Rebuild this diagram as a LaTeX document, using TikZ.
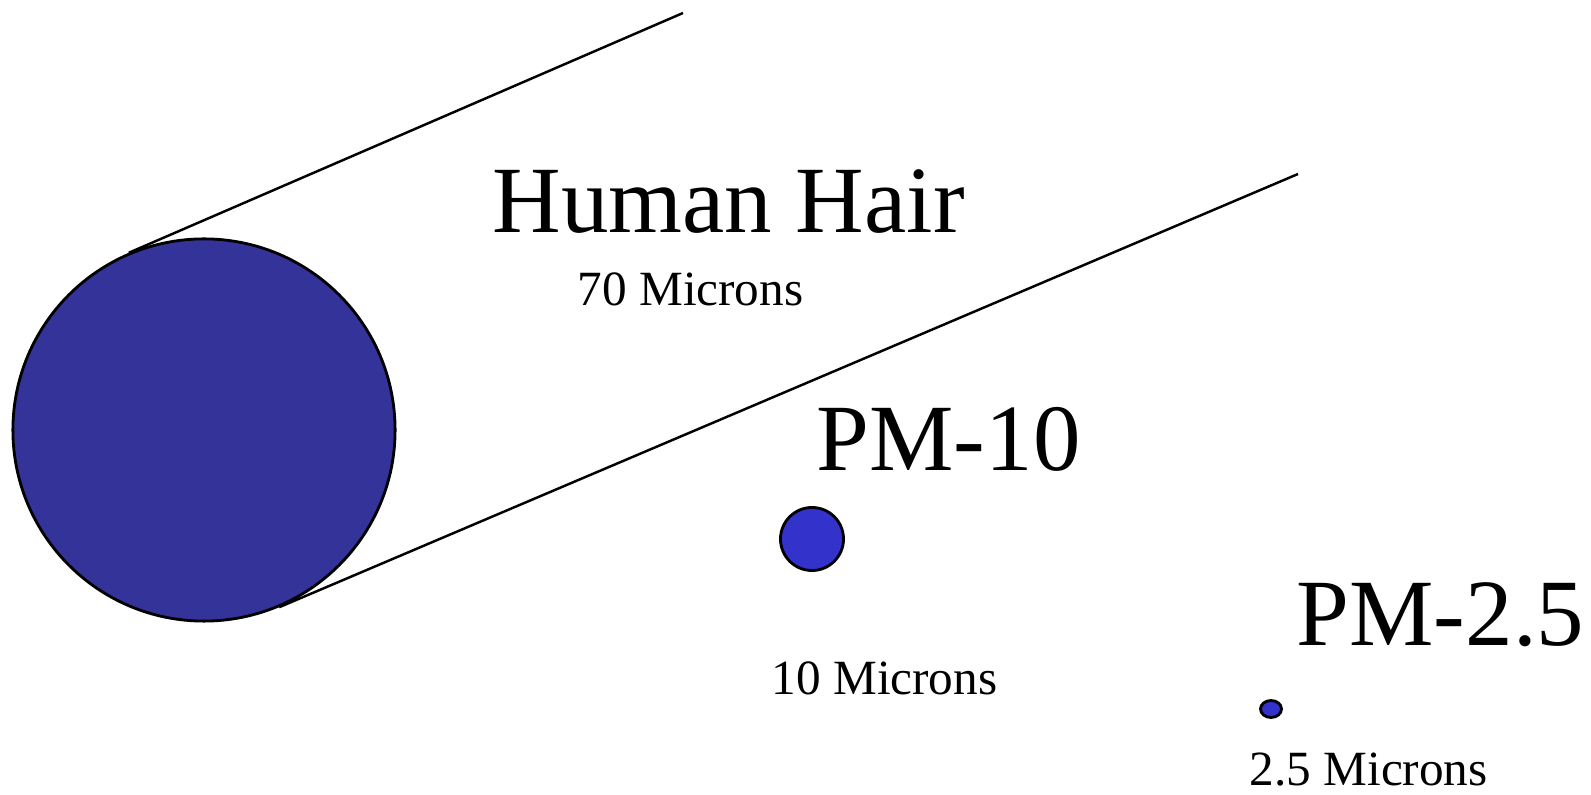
\documentclass[tikz,border=0pt]{standalone}
\usepackage{fontspec}
\setmainfont{Liberation Serif}
\usetikzlibrary{positioning,shapes.geometric}
\definecolor{hairblue}{RGB}{51,51,153}
\definecolor{dustblue}{RGB}{51,51,204}

\begin{document}
\begin{tikzpicture}[
    x=0.01cm, y=-0.01cm,
    particle/.style={draw=black, line width=0.8pt, inner sep=0pt},
    bigtext/.style={font=\fontsize{27}{30}\selectfont, inner sep=0pt, anchor=base west},
    smalltext/.style={font=\fontsize{14}{16}\selectfont, inner sep=0pt, anchor=base west},
    strand/.style={line width=0.7pt}
]
  \useasboundingbox (0,0) rectangle (1591,795);

  \node[particle, circle, fill=hairblue, minimum size=3.82cm] (hair) at (204,430) {};
  \node[particle, circle, fill=dustblue, minimum size=0.63cm] (pmten) at (812,539) {};
  \node[particle, ellipse, fill=dustblue, minimum width=0.21cm, minimum height=0.17cm] (pmfine) at (1271,709) {};

  \coordinate (hairtop) at (683,13);
  \coordinate (hairbot) at (1298,174);
  \draw[strand] (hair.113) -- (hairtop);
  \draw[strand] (hair.-67) -- (hairbot);

  \node[bigtext] (hairname) at (492,233) {Human Hair};
  \node[smalltext] (hairsize) at (577,306) {70 Microns};
  \node[bigtext] (tenname) at (816,471) {PM-10};
  \node[smalltext] (tensize) at (771,695) {10 Microns};
  \node[bigtext] (finename) at (1296,646) {PM-2.5};
  \node[smalltext] (finesize) at (1249,786) {2.5 Microns};
\end{tikzpicture}
\end{document}
